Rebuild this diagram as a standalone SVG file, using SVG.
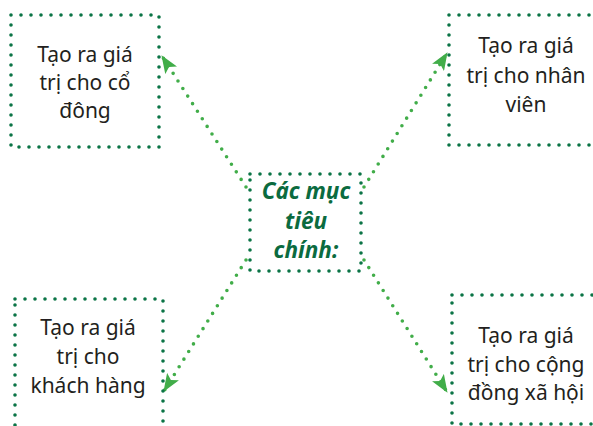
<svg xmlns="http://www.w3.org/2000/svg" width="593" height="426" viewBox="0 0 593 426">
<style>
.box{fill:none;stroke:#0b7446;stroke-width:3.6;stroke-linecap:round;stroke-dasharray:0 10}
.conn{fill:none;stroke:#41ad49;stroke-width:3.6;stroke-linecap:round;stroke-dasharray:0 9}
.t{font-family:"Noto Sans","Open Sans",sans-serif;font-size:21px;fill:#231f20;text-anchor:middle}
.c{font-family:"Noto Sans","Open Sans",sans-serif;font-size:22.5px;font-weight:bold;font-style:italic;fill:#0b6b3f;text-anchor:middle}
</style>
<defs>
<marker id="ah" viewBox="0 0 18 14" refX="17" refY="7" markerWidth="18" markerHeight="14" markerUnits="userSpaceOnUse" orient="auto">
<path d="M0,0 L18,7 L0,14 L4,7 Z" fill="#41ad49"/>
</marker>
</defs>
<g id="connectors">
<line class="conn" x1="246" y1="187" x2="162" y2="56" marker-end="url(#ah)"/>
<line class="conn" x1="364" y1="187" x2="447" y2="53" marker-end="url(#ah)"/>
<line class="conn" x1="246" y1="260" x2="164" y2="391" marker-end="url(#ah)"/>
<line class="conn" x1="364" y1="260" x2="447" y2="392" marker-end="url(#ah)"/>
</g>
<g id="center">
<rect class="box" x="250" y="174" width="111" height="97"/>
<text class="c" x="306" y="199">Các mục</text>
<text class="c" x="306" y="229">tiêu</text>
<text class="c" x="306" y="258">chính:</text>
</g>
<g id="top-left">
<rect class="box" x="11" y="15" width="148" height="132"/>
<text class="t" x="85" y="62">Tạo ra giá</text>
<text class="t" x="85" y="90">trị cho cổ</text>
<text class="t" x="85" y="118">đông</text>
</g>
<g id="top-right">
<rect class="box" x="449" y="15" width="160" height="130"/>
<text class="t" x="526" y="53">Tạo ra giá</text>
<text class="t" x="526" y="83">trị cho nhân</text>
<text class="t" x="526" y="112">viên</text>
</g>
<g id="bottom-left">
<rect class="box" x="15" y="299" width="148" height="140"/>
<text class="t" x="88" y="335">Tạo ra giá</text>
<text class="t" x="88" y="364">trị cho</text>
<text class="t" x="88" y="393">khách hàng</text>
</g>
<g id="bottom-right">
<rect class="box" x="452" y="295" width="160" height="129"/>
<text class="t" x="526" y="343">Tạo ra giá</text>
<text class="t" x="526" y="372">trị cho cộng</text>
<text class="t" x="526" y="400">đồng xã hội</text>
</g>
</svg>
